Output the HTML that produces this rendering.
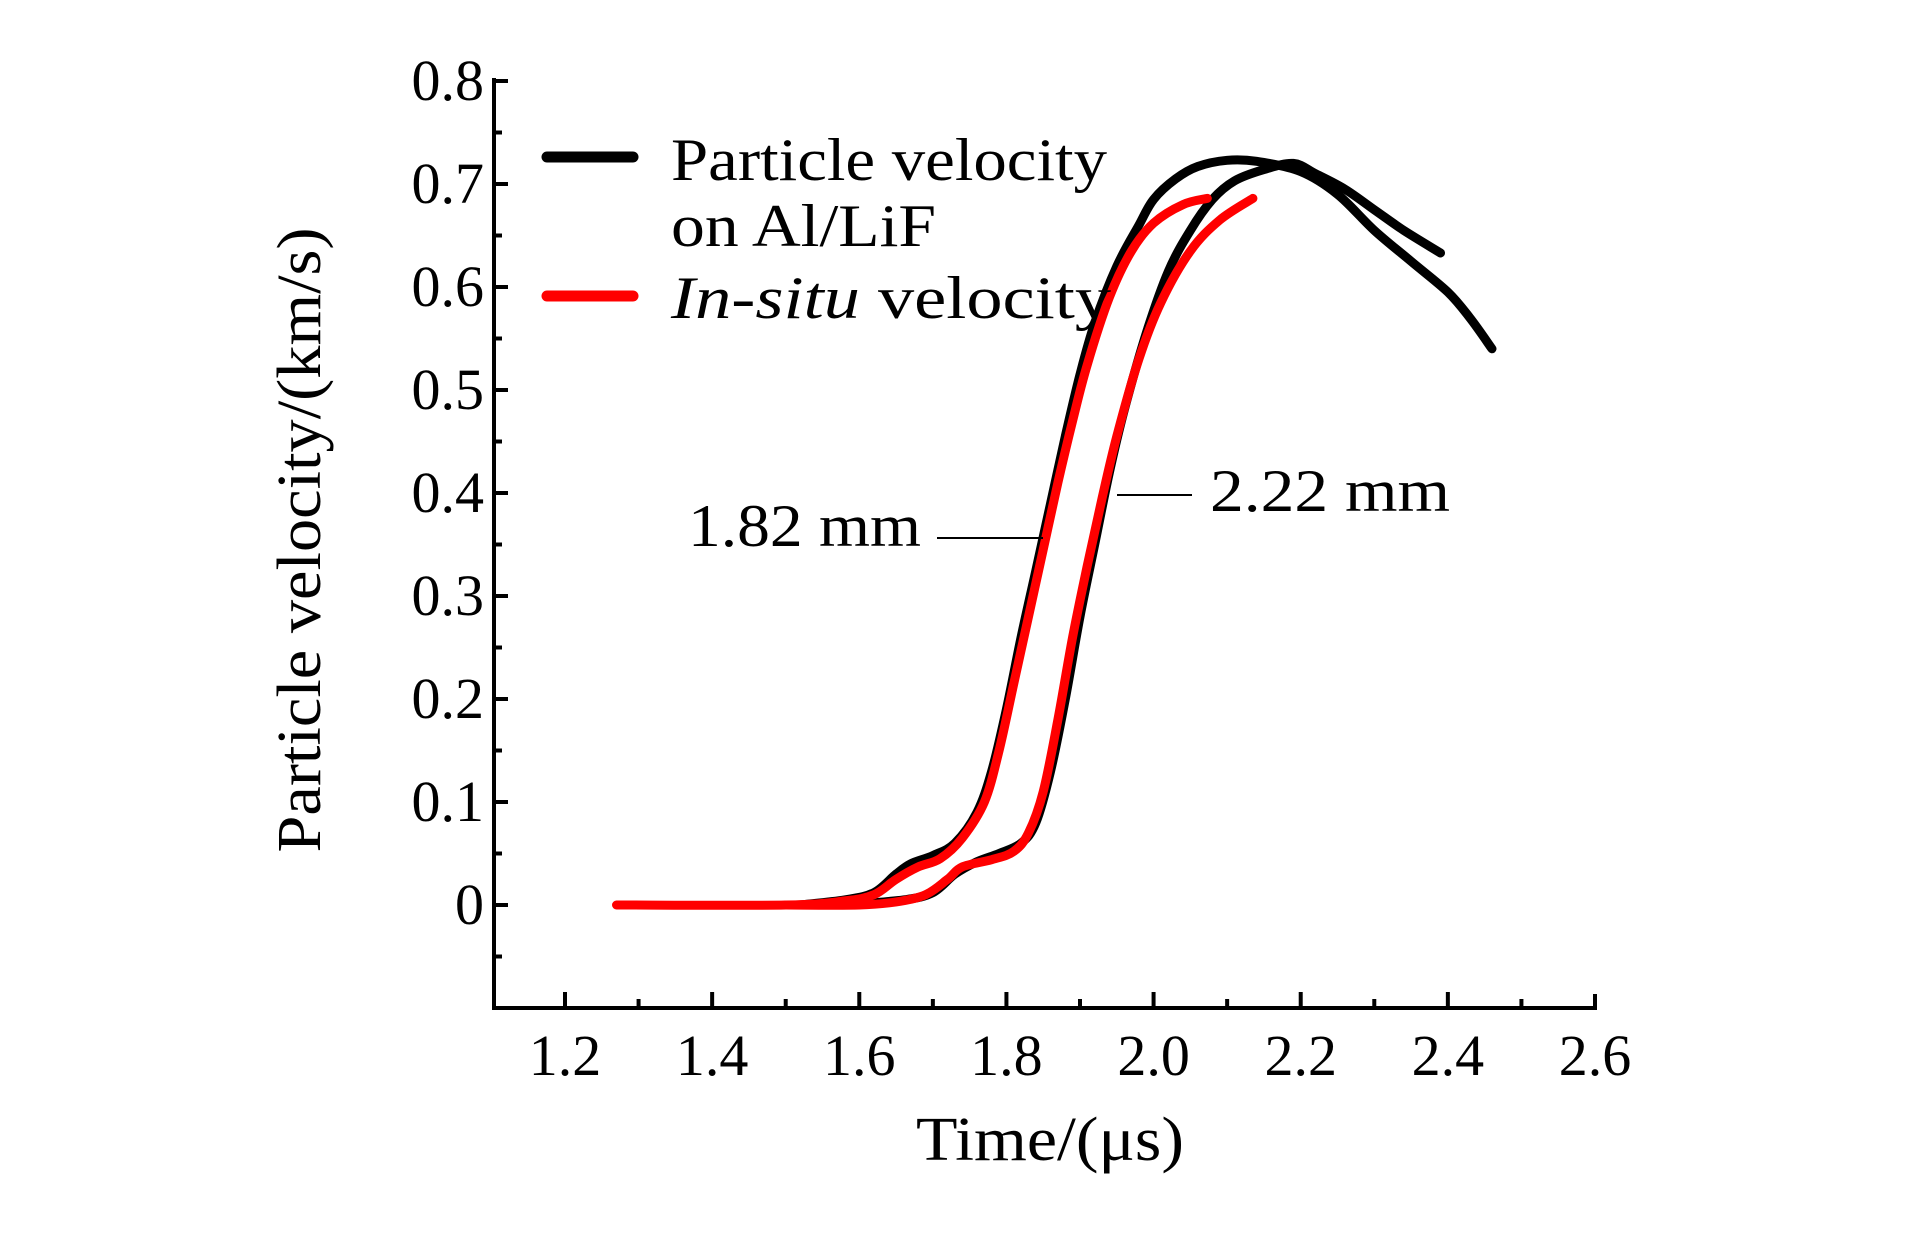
<!DOCTYPE html>
<html><head><meta charset="utf-8"><style>html,body{margin:0;padding:0;background:#fff}svg{display:block}text{font-family:"Liberation Serif",serif;fill:#000}</style></head>
<body>
<svg id="chart" width="1923" height="1233" viewBox="0 0 1923 1233" xmlns="http://www.w3.org/2000/svg">
<g id="axes"></g>
<g id="series"></g>
<g id="legend">
  <line x1="547" y1="157" x2="633" y2="157" stroke="#000" stroke-width="11" stroke-linecap="round"/>
  <text x="671" y="180" font-size="60" textLength="436" lengthAdjust="spacingAndGlyphs">Particle velocity</text>
  <text x="671" y="246" font-size="60" textLength="265" lengthAdjust="spacingAndGlyphs">on Al/LiF</text>
  <line x1="547" y1="296" x2="633" y2="296" stroke="#f00" stroke-width="11" stroke-linecap="round"/>
  <text x="671" y="318" font-size="60" textLength="440" lengthAdjust="spacingAndGlyphs"><tspan font-style="italic">In-situ</tspan> velocity</text>
</g>
<g id="annotations">
  <text x="688" y="546" font-size="60" textLength="233" lengthAdjust="spacingAndGlyphs">1.82 mm</text>
  <line x1="937" y1="538" x2="1043" y2="538" stroke="#000" stroke-width="2"/>
  <text x="1210" y="511" font-size="60" textLength="240" lengthAdjust="spacingAndGlyphs">2.22 mm</text>
  <line x1="1117" y1="495" x2="1192" y2="495" stroke="#000" stroke-width="2"/>
</g>
</svg>
<script>
const xTicks = [1.2,1.4,1.6,1.8,2.0,2.2,2.4,2.6];
const xTickLabels = ["1.2","1.4","1.6","1.8","2.0","2.2","2.4","2.6"];
const yTicks = [0,0.1,0.2,0.3,0.4,0.5,0.6,0.7,0.8];
const yTickLabels = ["0","0.1","0.2","0.3","0.4","0.5","0.6","0.7","0.8"];
const alLif182T = [1.52,1.58,1.62,1.65,1.67,1.70,1.73,1.76,1.78,1.80,1.82,1.84,1.86,1.88,1.90,1.92,1.95,1.98,2.00,2.03,2.06,2.10,2.14,2.20,2.25,2.30,2.35,2.40,2.43,2.46];
const alLif182V = [0,0.005,0.012,0.03,0.04,0.048,0.06,0.09,0.13,0.19,0.26,0.325,0.39,0.455,0.515,0.565,0.62,0.66,0.685,0.705,0.717,0.723,0.722,0.712,0.69,0.655,0.625,0.595,0.57,0.54];
const alLif222T = [1.58,1.66,1.70,1.73,1.76,1.79,1.82,1.84,1.86,1.88,1.90,1.92,1.94,1.96,1.99,2.02,2.05,2.08,2.11,2.15,2.19,2.22,2.26,2.30,2.34,2.39];
const alLif222V = [0,0.005,0.012,0.03,0.042,0.05,0.06,0.08,0.13,0.20,0.28,0.35,0.42,0.48,0.555,0.615,0.655,0.685,0.703,0.714,0.72,0.71,0.695,0.675,0.655,0.633];
const insitu182T = [1.27,1.50,1.58,1.62,1.65,1.68,1.71,1.74,1.77,1.79,1.81,1.83,1.85,1.87,1.89,1.91,1.94,1.97,2.00,2.04,2.073];
const insitu182V = [0,0,0.004,0.01,0.025,0.037,0.045,0.065,0.10,0.15,0.215,0.28,0.345,0.41,0.47,0.525,0.59,0.635,0.662,0.68,0.686];
const insitu222T = [1.50,1.60,1.65,1.69,1.72,1.74,1.78,1.81,1.83,1.85,1.87,1.89,1.91,1.93,1.95,1.98,2.01,2.05,2.09,2.135];
const insitu222V = [0,0,0.003,0.01,0.025,0.037,0.044,0.052,0.07,0.11,0.18,0.26,0.33,0.395,0.455,0.53,0.585,0.635,0.665,0.686];

const NS="http://www.w3.org/2000/svg";
const X0=494, X1=1595, Y0=1008, Y1=80;
const xStart=1.2, xPx0=565, xPerUnit=(1595-565)/1.4;
function sx(t){return xPx0+(t-xStart)*xPerUnit;}
const yPx0=905, yPerUnit=(905-81)/0.8;
function sy(v){return yPx0-v*yPerUnit;}
function el(tag,attrs,parent){const e=document.createElementNS(NS,tag);for(const k in attrs)e.setAttribute(k,attrs[k]);parent.appendChild(e);return e;}
const axes=document.getElementById('axes');
let a=el('path',{d:`M${X0},${Y1-2} L${X0},${Y0} L${X1},${Y0} L${X1},${Y0-14}`,fill:'none',stroke:'#000','stroke-width':4},axes);


for(let i=-2;i<=16;i++){
  const v=i*0.05, y=sy(v); if(y>Y0-2) continue;
  const major=(i%2===0);
  const t=el('line',{x1:X0,y1:y,x2:X0+(major?14:8),y2:y,stroke:'#000','stroke-width':4},axes);
  
  
}
yTicks.forEach((v,i)=>{
  const t=el('text',{x:484,y:sy(v)+19,'font-size':58,'text-anchor':'end'},axes);
  t.textContent=yTickLabels[i];
  
  
});
for(let i=0;i<15;i++){
  const tv=1.1+i*0.1, x=sx(tv); if(x<X0+2||x>X1+1) continue;
  const major=Math.abs(Math.round(tv*10)%2)===0;
  const t=el('line',{x1:x,y1:Y0,x2:x,y2:Y0-(major?16:9),stroke:'#000','stroke-width':4},axes);
  
  
}
xTicks.forEach((v,i)=>{
  const t=el('text',{x:sx(v),y:1075,'font-size':58,'text-anchor':'middle'},axes);
  t.textContent=xTickLabels[i];
  
  
});
let xt=el('text',{x:1050,y:1160,'font-size':62,'text-anchor':'middle',textLength:268,lengthAdjust:'spacingAndGlyphs'},axes);
xt.textContent='Time/(μs)';


let yt=el('text',{x:0,y:0,'font-size':62,'text-anchor':'middle',transform:'translate(320,540) rotate(-90)',textLength:625,lengthAdjust:'spacingAndGlyphs'},axes);
yt.textContent='Particle velocity/(km/s)';



const series=document.getElementById('series');
function drawLine(T,V,color,name){
  const P=T.map((t,i)=>[sx(t),sy(V[i])]);
  let d='M'+P[0][0].toFixed(1)+','+P[0][1].toFixed(1);
  for(let i=0;i<P.length-1;i++){
    const p0=P[Math.max(0,i-1)],p1=P[i],p2=P[i+1],p3=P[Math.min(P.length-1,i+2)];
    const c1=[p1[0]+(p2[0]-p0[0])/6,p1[1]+(p2[1]-p0[1])/6];
    const c2=[p2[0]-(p3[0]-p1[0])/6,p2[1]-(p3[1]-p1[1])/6];
    d+=` C${c1[0].toFixed(1)},${c1[1].toFixed(1)} ${c2[0].toFixed(1)},${c2[1].toFixed(1)} ${p2[0].toFixed(1)},${p2[1].toFixed(1)}`;
  }
  const p=el('path',{d:d,fill:'none',stroke:color,'stroke-width':9,'stroke-linejoin':'round','stroke-linecap':'round'},series);
  
  
}
drawLine(alLif182T,alLif182V,'#000','line-al-lif-1-82mm');
drawLine(alLif222T,alLif222V,'#000','line-al-lif-2-22mm');
drawLine(insitu182T,insitu182V,'#f00','line-insitu-1-82mm');
drawLine(insitu222T,insitu222V,'#f00','line-insitu-2-22mm');
</script>
</body></html>
